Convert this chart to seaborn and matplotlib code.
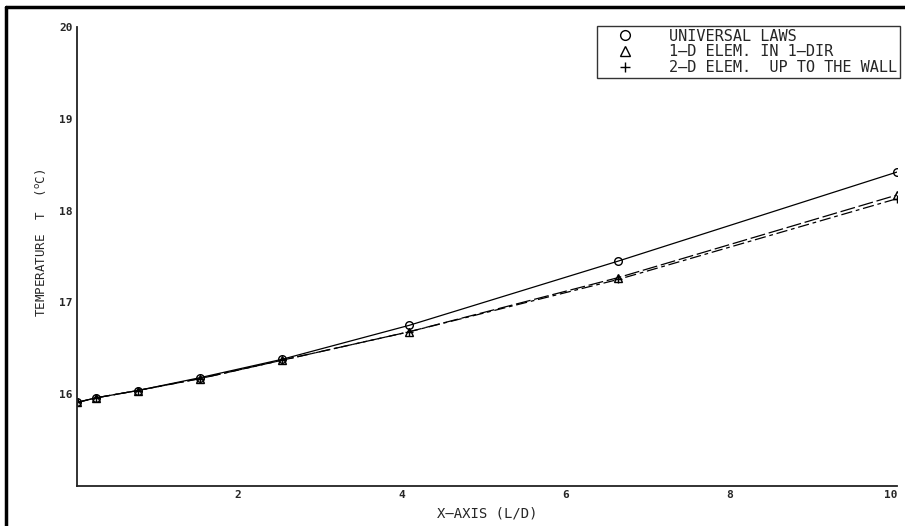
import matplotlib
matplotlib.use("Agg")
import matplotlib.pyplot as plt
from matplotlib.lines import Line2D
import seaborn as sns
import pandas as pd

x_ld = [0.0, 0.23, 0.74, 1.5, 2.5, 4.05, 6.6, 10.0]
universal = [15.91, 15.96, 16.04, 16.18, 16.38, 16.75, 17.45, 18.42]
one_d = [15.91, 15.96, 16.04, 16.17, 16.37, 16.68, 17.27, 18.17]
two_d = [15.91, 15.96, 16.04, 16.17, 16.37, 16.68, 17.25, 18.13]
labels = ["UNIVERSAL LAWS", "1\u2013D ELEM. IN 1\u2013DIR", "2\u2013D ELEM.  UP TO THE WALL"]
xticks = [2, 4, 6, 8, 10]
yticks = [16, 17, 18, 19, 20]

sns.set_style("white")
plt.rcParams['font.family'] = ['DejaVu Sans Mono', 'DejaVu Sans']

fig = plt.figure(figsize=(9.05, 5.26), dpi=100)
ax = fig.add_axes([77/905, 1-486/526, (897-77)/905, (486-27)/526])

series = [(universal, 'o', '-', labels[0]),
          (one_d, '^', (0, (12, 3)), labels[1]),
          (two_d, '+', (0, (9, 3, 3, 3)), labels[2])]
for vals, mk, ls, lab in series:
    df = pd.DataFrame({"x": x_ld, "y": vals})
    sns.lineplot(data=df, x="x", y="y", ax=ax, color='black', linewidth=0.9,
                 linestyle=ls, marker=mk, markersize=5.5, markerfacecolor='none',
                 markeredgecolor='black', markeredgewidth=1.0, label=lab)

ax.set_xlim(0, 10)
ax.set_ylim(15, 20)
ax.set_xticks(xticks)
ax.set_yticks(yticks)
ax.set_xticklabels([str(t) for t in xticks], fontsize=8, fontweight='bold')
ax.set_yticklabels([str(t) for t in yticks], fontsize=8, fontweight='bold')
ax.tick_params(direction='in', length=3, width=0.8, pad=3)
for lab in ax.get_xticklabels():
    lab.set_horizontalalignment('right')
for s in ['top', 'right']:
    ax.spines[s].set_visible(False)
for s in ['left', 'bottom']:
    ax.spines[s].set_linewidth(1.3)
    ax.spines[s].set_color('#222222')

ax.set_xlabel("X\u2013AXIS (L/D)", fontsize=10)
ax.xaxis.set_label_coords(0.5, -0.045)
ax.set_ylabel("TEMPERATURE  T  ($^{\\mathrm{o}}$C)", fontsize=9)
ax.yaxis.set_label_coords(-0.035, 0.53)

leg = ax.legend(loc='upper right', bbox_to_anchor=(1.004, 1.003), frameon=True,
                fancybox=False, edgecolor='black', fontsize=11, handlelength=3.2,
                handletextpad=1.3, borderpad=0.2, labelspacing=0.05,
                borderaxespad=0.0)
leg.get_frame().set_linewidth(1.0)
for h in leg.legend_handles:
    h.set_linestyle('none')
    h.set_markersize(7)

# outer frame (top and left edges visible)
fig.add_artist(Line2D([6/905, 1.0], [1-7/526, 1-7/526], color='black', linewidth=2.5, transform=fig.transFigure))
fig.add_artist(Line2D([6/905, 6/905], [0.0, 1-7/526], color='black', linewidth=2.5, transform=fig.transFigure))

fig.savefig("out.png", dpi=100)
